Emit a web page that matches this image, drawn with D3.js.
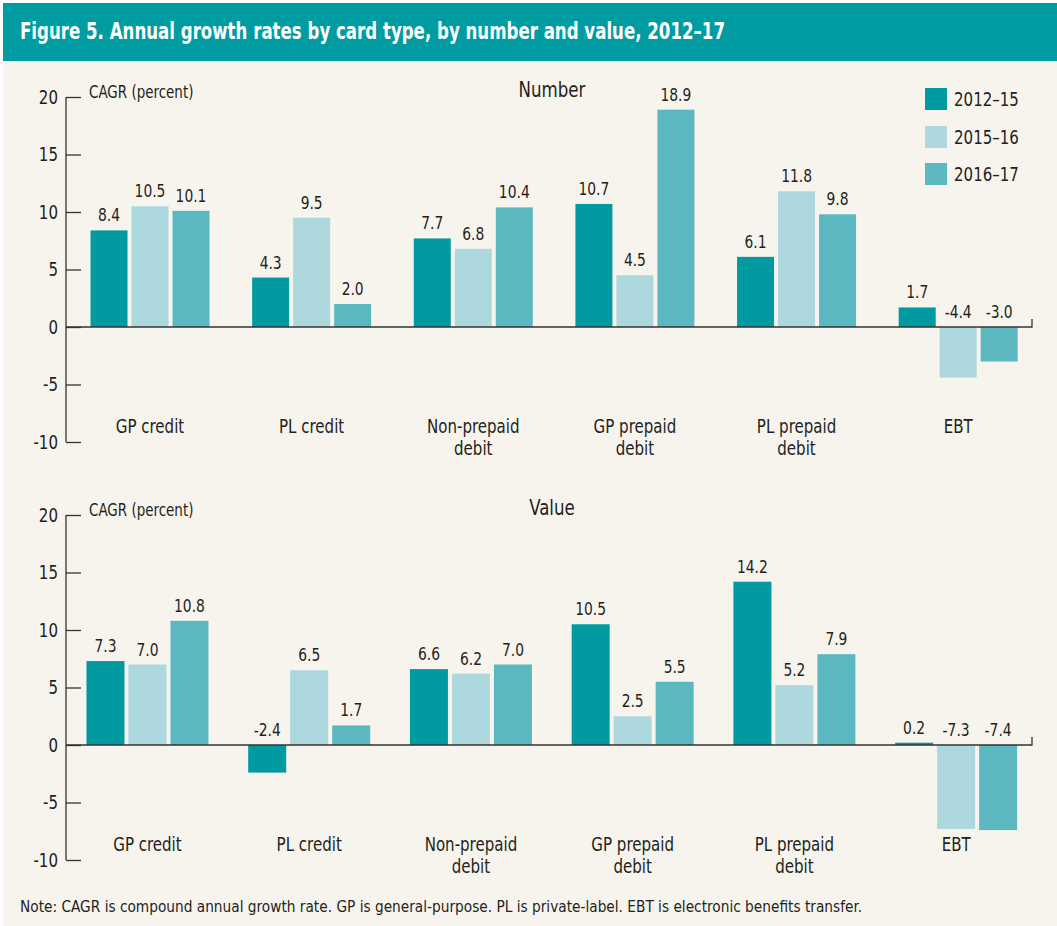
<!DOCTYPE html>
<html>
<head>
<meta charset="utf-8">
<script src="https://cdn.jsdelivr.net/npm/d3@7"></script>
<style>
  html, body { margin: 0; padding: 0; background: #ffffff; }
  svg { display: block; }
  text { font-family: "Liberation Sans Narrow", "Arial Narrow", "DejaVu Sans Condensed", "Roboto", sans-serif; fill: #231f20; }
</style>
</head>
<body>
<svg id="chart" width="1057" height="926"></svg>
<script>
// ---- data ----
const categories = ["GP credit", "PL credit", "Non-prepaid debit", "GP prepaid debit", "PL prepaid debit", "EBT"];
const categoryLines = [["GP credit"], ["PL credit"], ["Non-prepaid", "debit"], ["GP prepaid", "debit"], ["PL prepaid", "debit"], ["EBT"]];
const seriesNames = ["2012\u201315", "2015\u201316", "2016\u201317"];
const seriesColors = ["#009aa0", "#acd8de", "#5bb8c0"];

const number2012_15 = [8.4, 4.3, 7.7, 10.7, 6.1, 1.7];
const number2015_16 = [10.5, 9.5, 6.8, 4.5, 11.8, -4.4];
const number2016_17 = [10.1, 2.0, 10.4, 18.9, 9.8, -3.0];

const value2012_15 = [7.3, -2.4, 6.6, 10.5, 14.2, 0.2];
const value2015_16 = [7.0, 6.5, 6.2, 2.5, 5.2, -7.3];
const value2016_17 = [10.8, 1.7, 7.0, 5.5, 7.9, -7.4];

const yTicks = [-10, -5, 0, 5, 10, 15, 20];

const titleText = "Figure 5. Annual growth rates by card type, by number and value, 2012\u201317";
const noteText = "Note: CAGR is compound annual growth rate. GP is general-purpose. PL is private-label. EBT is electronic benefits transfer.";

// ---- drawing ----
const svg = d3.select("#chart");
svg.append("rect").attr("x", 3).attr("y", 3).attr("width", 1054).attr("height", 923).attr("fill", "#f7f4ee");
svg.append("rect").attr("x", 3).attr("y", 3).attr("width", 1054).attr("height", 58).attr("fill", "#009ca1");
svg.append("text").attr("class", "fixed").attr("x", 20).attr("y", 39)
  .attr("font-size", 23).attr("font-weight", "bold").style("fill", "#ffffff")
  .attr("textLength", 705).attr("lengthAdjust", "spacingAndGlyphs")
  .text(titleText);

svg.append("text").attr("class", "fixed").attr("x", 20).attr("y", 912).attr("font-size", 16)
  .attr("textLength", 842).attr("lengthAdjust", "spacingAndGlyphs")
  .text(noteText);

function panel(opts) {
  const g = svg.append("g");
  const y = d3.scaleLinear().domain([-10, 20]).range([opts.yBottom, opts.yTop]);
  const x0 = d3.scaleBand().domain(categories).range(opts.xRange).paddingInner(0).paddingOuter(0);
  const groupW = 3 * opts.barW + 2 * 4;
  const x1 = d3.scaleBand().domain(seriesNames).range([0, groupW]).paddingInner(4 / (opts.barW + 4)).paddingOuter(0);
  const axisX = 66;

  // y axis
  const yAxis = d3.axisRight(y).tickValues(yTicks).tickSize(15).tickFormat("");
  const ag = g.append("g").attr("transform", `translate(${axisX},0)`).call(yAxis);
  ag.select(".domain").attr("stroke", "#333").attr("stroke-width", 1.3).attr("d", `M0,${opts.yTop}V${opts.yBottom}`);
  ag.selectAll(".tick line").attr("stroke", "#333").attr("stroke-width", 1.3);
  g.selectAll(".ylab").data(yTicks).join("text")
    .attr("x", 58).attr("y", d => y(d) + 6.5).attr("text-anchor", "end").attr("font-size", 19)
    .text(d => d);

  g.append("text").attr("x", 89).attr("y", opts.yTop + 1).attr("font-size", 17).text("CAGR (percent)");
  g.append("text").attr("x", 552).attr("y", opts.yTop).attr("text-anchor", "middle").attr("font-size", 21).text(opts.title);

  const data = categories.map((c, i) => ({ c, i, vals: opts.series.map((s, k) => ({ name: seriesNames[k], k, v: s[i] })) }));
  const groups = g.selectAll(".grp").data(data).join("g")
    .attr("transform", d => `translate(${x0(d.c) + x0.bandwidth() / 2 - groupW / 2},0)`);
  groups.selectAll("rect").data(d => d.vals).join("rect")
    .attr("x", d => x1(d.name)).attr("width", x1.bandwidth())
    .attr("y", d => y(Math.max(0, d.v))).attr("height", d => Math.abs(y(d.v) - y(0)))
    .attr("fill", d => seriesColors[d.k]);
  groups.selectAll("text.val").data(d => d.vals).join("text").attr("class", "val")
    .attr("x", d => x1(d.name) + x1.bandwidth() / 2)
    .attr("y", d => (d.v >= 0 ? y(d.v) : y(0)) - 9)
    .attr("text-anchor", "middle").attr("font-size", 17.5)
    .text(d => d.v.toFixed(1));

  // zero line
  g.append("path").attr("d", `M${axisX},${y(0)}H1032V${y(0) - 8}`).attr("fill", "none").attr("stroke", "#333").attr("stroke-width", 1.3);

  // category labels
  const cl = g.selectAll(".cat").data(data).join("text")
    .attr("x", d => x0(d.c) + x0.bandwidth() / 2).attr("y", y(0) + 106)
    .attr("text-anchor", "middle").attr("font-size", 19);
  cl.selectAll("tspan").data(d => categoryLines[d.i].map((t, j) => ({ t, j, x: x0(d.c) + x0.bandwidth() / 2 }))).join("tspan")
    .attr("x", d => d.x).attr("dy", d => d.j === 0 ? 0 : 22).text(d => d.t);
}

panel({ yTop: 97, yBottom: 442, xRange: [69.2, 1039], barW: 37, title: "Number",
  series: [number2012_15, number2015_16, number2016_17] });
panel({ yTop: 515, yBottom: 860, xRange: [66.6, 1037], barW: 38, title: "Value",
  series: [value2012_15, value2015_16, value2016_17] });

// legend
const leg = svg.append("g");
const legY = [88, 126, 163];
seriesNames.forEach((n, k) => {
  leg.append("rect").attr("x", 925).attr("y", legY[k]).attr("width", 22).attr("height", 22).attr("fill", seriesColors[k]);
  leg.append("text").attr("x", 954).attr("y", legY[k] + 18).attr("font-size", 19).text(n);
});

// condense text horizontally to mimic a condensed typeface
const squeeze = 0.88;
svg.selectAll("text:not(.fixed)").each(function () {
  const t = d3.select(this);
  const spans = t.selectAll("tspan");
  if (spans.empty()) {
    const len = this.getComputedTextLength();
    t.attr("textLength", len * squeeze).attr("lengthAdjust", "spacingAndGlyphs");
  } else {
    spans.each(function () {
      const len = this.getComputedTextLength();
      d3.select(this).attr("textLength", len * squeeze).attr("lengthAdjust", "spacingAndGlyphs");
    });
  }
});
</script>
</body>
</html>
